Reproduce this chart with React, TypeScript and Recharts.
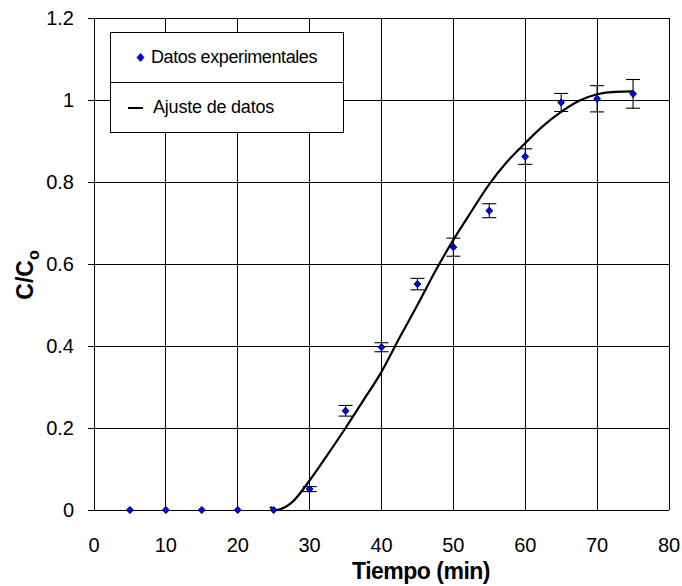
import {
  ComposedChart,
  Line,
  Scatter,
  ErrorBar,
  XAxis,
  YAxis,
  CartesianGrid,
  Legend,
  Label,
} from "recharts";

const FONT = '"Liberation Sans", Arial, sans-serif';

// measured breakthrough points
const times = [5, 10, 15, 20, 25, 30, 35, 40, 45, 50, 55, 60, 65, 70, 75];
const ratio = [0, 0, 0, 0, 0, 0.051, 0.242, 0.397, 0.551, 0.641, 0.73, 0.862, 0.994, 1.003, 1.015];
const ratioErr = [0, 0, 0, 0, 0, 0.006, 0.013, 0.011, 0.014, 0.022, 0.017, 0.019, 0.022, 0.032, 0.035];

// fitted curve
const fitTimes = [24.5, 25.3, 26.5, 27.5, 30, 32.5, 35, 37.5, 40, 42.5, 45, 47.5, 50, 52.5, 55, 57.5, 60, 62.5, 65, 67.5, 70, 72.5, 75];
const fitRatio = [0.008, 0, 0.006, 0.018, 0.072, 0.135, 0.2, 0.268, 0.337, 0.42, 0.5, 0.583, 0.659, 0.728, 0.795, 0.85, 0.895, 0.937, 0.971, 0.998, 1.014, 1.02, 1.021];

const xTicks = [0, 10, 20, 30, 40, 50, 60, 70, 80];
const yTicks = [0, 0.2, 0.4, 0.6, 0.8, 1, 1.2];

const expName = "Datos experimentales";
const fitName = "Ajuste de datos";

const points = times.map((t, i) => ({ x: t, y: ratio[i], err: ratioErr[i] }));
const fit = fitTimes.map((t, i) => ({ x: t, y: fitRatio[i] }));

const Diamond = (props: any) => {
  const { cx, cy } = props;
  if (cx == null || cy == null) return null;
  return (
    <path
      d={`M${cx},${cy - 3.6}L${cx + 3.4},${cy}L${cx},${cy + 3.6}L${cx - 3.4},${cy}Z`}
      fill="#0000ff"
      stroke="#000060"
      strokeWidth={1}
      strokeLinejoin="round"
    />
  );
};

const LegendBox = () => (
  <div
    style={{
      width: 232,
      border: "1px solid #000",
      background: "#fff",
      fontFamily: FONT,
      fontSize: 18,
      color: "#000",
    }}
  >
    <div style={{ height: 49, display: "flex", alignItems: "center", paddingLeft: 25 }}>
      <svg width={9} height={9} style={{ marginRight: 6 }}>
        <path d="M4.5,0.5L8,4.5L4.5,8.5L1,4.5Z" fill="#0000ff" stroke="#000060" strokeWidth={0.8} />
      </svg>
      <span style={{ letterSpacing: -0.4 }}>{expName}</span>
    </div>
    <div
      style={{
        height: 49,
        display: "flex",
        alignItems: "center",
        paddingLeft: 17,
        borderTop: "1px solid #000",
      }}
    >
      <div style={{ width: 15, height: 2, background: "#000", marginRight: 10 }} />
      <span style={{ letterSpacing: -0.2 }}>{fitName}</span>
    </div>
  </div>
);

const YTitle = (props: any) => {
  const vb = props.viewBox || { x: 0, y: 18, height: 492 };
  const x = vb.x + 33;
  const y = vb.y + vb.height / 2 + 11;
  return (
    <text
      x={x}
      y={y}
      transform={`rotate(-90, ${x}, ${y})`}
      textAnchor="middle"
      fontFamily={FONT}
      fontWeight="bold"
      fontSize={23}
      fill="#000"
    >
      C/C
      <tspan dy={6} fontSize={16}>
        o
      </tspan>
    </text>
  );
};

export default function App() {
  return (
    <div
      style={{
        position: "absolute",
        left: 0,
        top: 0,
        width: 682,
        height: 586,
        background: "#fff",
      }}
    >
      <ComposedChart
        width={682}
        height={586}
        margin={{ top: 18, right: 13, left: 0, bottom: 0 }}
        style={{ fontFamily: FONT }}
      >
        <CartesianGrid
          stroke="#000"
          strokeWidth={1}
          shapeRendering="crispEdges"
          horizontalValues={yTicks}
          verticalValues={xTicks}
        />
        <XAxis
          dataKey="x"
          type="number"
          domain={[0, 80]}
          ticks={xTicks}
          height={76}
          tickLine={false}
          tickSize={0}
          tickMargin={28}
          axisLine={{ stroke: "#000", shapeRendering: "crispEdges" }}
          tick={{ fill: "#000", fontSize: 20 }}
        >
          <Label
            value="Tiempo (min)"
            content={(p: any) => (
              <text
                x={421}
                y={579}
                textAnchor="middle"
                fontFamily={FONT}
                fontWeight="bold"
                fontSize={23}
                letterSpacing={-0.5}
                fill="#000"
              >
                {p.value}
              </text>
            )}
          />
        </XAxis>
        <YAxis
          dataKey="y"
          type="number"
          domain={[0, 1.2]}
          ticks={yTicks}
          width={94}
          tickSize={6}
          tickMargin={14}
          tickLine={{ stroke: "#000", shapeRendering: "crispEdges" }}
          axisLine={{ stroke: "#000", shapeRendering: "crispEdges" }}
          tick={{ fill: "#000", fontSize: 20 }}
        >
          <Label content={YTitle} />
        </YAxis>
        <Legend
          layout="vertical"
          align="center"
          verticalAlign="middle"
          content={LegendBox}
          wrapperStyle={{ left: 110, top: 32, width: 234 }}
        />
        <Line
          data={fit}
          dataKey="y"
          name={fitName}
          type="monotone"
          stroke="#000"
          strokeWidth={2.2}
          dot={false}
          activeDot={false}
          isAnimationActive={false}
        />
        <Scatter
          data={points}
          dataKey="y"
          name={expName}
          shape={Diamond}
          isAnimationActive={false}
        >
          <ErrorBar dataKey="err" direction="y" width={7} stroke="#000" strokeWidth={1.1} />
        </Scatter>
      </ComposedChart>
    </div>
  );
}
